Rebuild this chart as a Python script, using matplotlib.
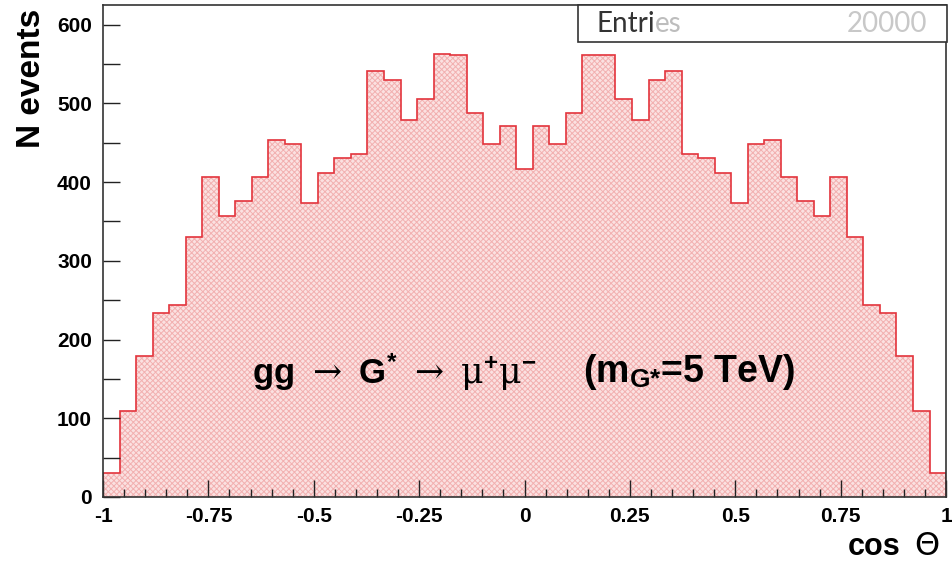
import numpy as np
import matplotlib
matplotlib.use("Agg")
import matplotlib.pyplot as plt
from matplotlib.ticker import MultipleLocator

# histogram of cos(theta), 51 bins between -1 and 1
x_min, x_max = -1.0, 1.0
n_bins = 51
counts = [31, 109, 179, 234, 244, 330, 406, 357, 376, 406,
          453, 449, 373, 411, 431, 436, 541, 530, 479, 505,
          563, 561, 488, 449, 471,
          417,
          471, 449, 488, 561, 562, 505, 479, 530, 541, 436,
          431, 411, 373, 449, 453, 406, 376, 357, 406, 330,
          244, 234, 179, 109, 31]
n_entries = 20000
x_ticks = [-1, -0.75, -0.5, -0.25, 0, 0.25, 0.5, 0.75, 1]
x_tick_labels = ['-1', '-0.75', '-0.5', '-0.25', '0', '0.25', '0.5', '0.75', '1']
y_ticks = [0, 100, 200, 300, 400, 500, 600]

plt.rcParams['font.family'] = ['Liberation Sans', 'DejaVu Sans']
plt.rcParams['mathtext.fontset'] = 'custom'
plt.rcParams['mathtext.rm'] = 'DejaVu Serif'
plt.rcParams['mathtext.it'] = 'DejaVu Serif'
plt.rcParams['mathtext.bf'] = 'Liberation Sans:bold'
plt.rcParams['mathtext.default'] = 'rm'
plt.rcParams['hatch.linewidth'] = 0.7

edges = np.linspace(x_min, x_max, n_bins + 1)

fig = plt.figure(figsize=(9.53, 5.65), dpi=100)
ax = fig.add_axes([0.1081, 0.1204, 0.9927 - 0.1081, 0.9912 - 0.1204])

# hatched fill, then the red outline on top
ax.stairs(counts, edges, fill=True, facecolor='#fbe1e1', edgecolor='#f2b0b0',
          hatch='xxxxxx', linewidth=0)
ax.stairs(counts, edges, fill=False, color='#e3343c', linewidth=1.2, baseline=0)

ax.set_xlim(x_min, x_max)
ax.set_ylim(0, 625)

ax.set_xticks(x_ticks)
ax.set_xticklabels(x_tick_labels)
ax.xaxis.set_minor_locator(MultipleLocator(0.05))
ax.set_yticks(y_ticks)
ax.yaxis.set_minor_locator(MultipleLocator(50))
ax.tick_params(axis='x', which='major', direction='in', length=12, width=1,
               labelsize=15, pad=7, color='#222222')
ax.tick_params(axis='x', which='minor', direction='in', length=6, width=1,
               color='#222222')
ax.tick_params(axis='y', which='both', direction='in', length=12, width=1,
               labelsize=15, pad=8, color='#222222')
for lab in ax.get_xticklabels() + ax.get_yticklabels():
    lab.set_fontweight('bold')

for side in ax.spines.values():
    side.set_color('#333333')
    side.set_linewidth(1.2)

# axis titles
fig.text(0.033, 0.985, 'N events', rotation=90, ha='center', va='top',
         fontsize=24, fontweight='bold')
fig.text(0.945, 0.018, 'cos', ha='right', va='baseline',
         fontsize=22, fontweight='bold')
fig.text(0.973, 0.018, '\u0398', ha='center', va='baseline',
         fontsize=23, fontweight='normal', family='DejaVu Sans')

# process label
ax.text(0.1768, 0.254,
        r'$\mathbf{gg}\ \rightarrow\ \mathbf{G}^{\mathbf{*}}\ \rightarrow\ '
        r'\mu^{\mathbf{+}}\mu^{\mathbf{-}}$',
        transform=ax.transAxes, ha='left', va='center', fontsize=25,
        color='black')
ax.text(0.569, 0.254, r'(m$_{\mathbf{G}\mathbf{*}}$=5 TeV)',
        transform=ax.transAxes, ha='left', va='center', fontsize=27,
        fontweight='bold', color='black')

# stats box
box_left = (578 - 103) / (946 - 103)
box = plt.Rectangle((box_left, 0.925), 1 - box_left + 0.001, 0.075,
                    transform=ax.transAxes, facecolor='white',
                    edgecolor='#333333', linewidth=1.2, zorder=5, clip_on=False)
ax.add_patch(box)
t1 = ax.text(box_left + 0.022, 0.962, 'Entri', transform=ax.transAxes,
             ha='left', va='center', fontsize=20, fontweight='normal',
             family=['Lato', 'DejaVu Sans'], color='#333333', zorder=6)
ax.annotate('es', xy=(1, 0), xycoords=t1, ha='left', va='bottom',
            fontsize=20, fontweight='normal', family=['Lato', 'DejaVu Sans'],
            color='#bdbdbd', zorder=6)
ax.text(0.978, 0.962, str(n_entries), transform=ax.transAxes,
        ha='right', va='center', fontsize=20, fontweight='normal',
        family=['Lato', 'DejaVu Sans'], color='#c8c8c8', zorder=6)

fig.savefig('out.png', dpi=100, facecolor='white')
